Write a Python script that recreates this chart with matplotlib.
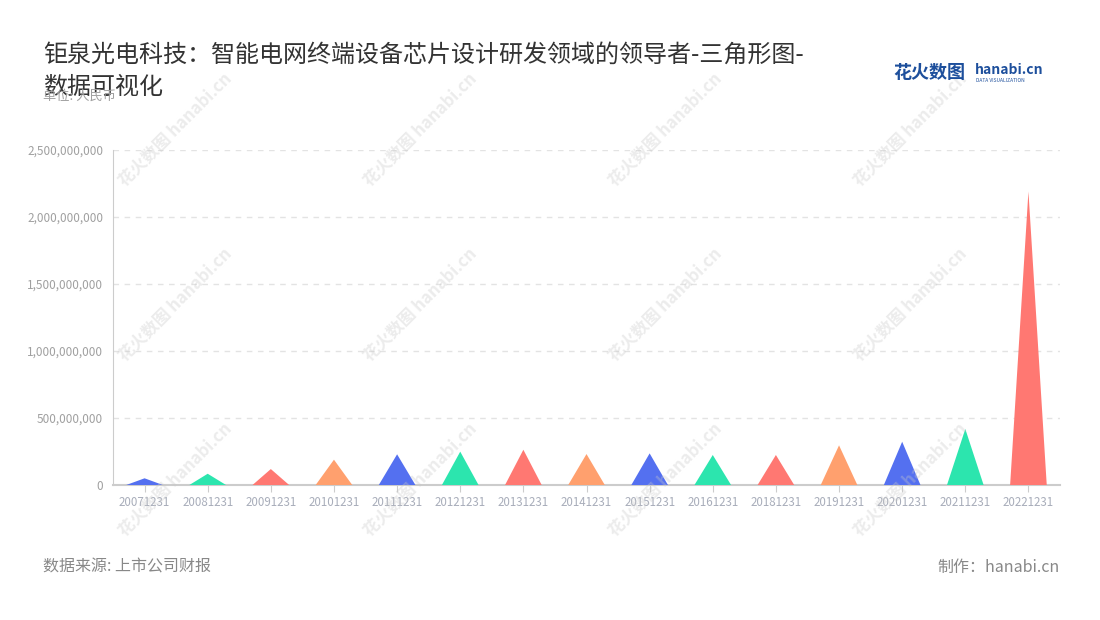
import matplotlib
matplotlib.use('Agg')
import matplotlib.pyplot as plt
from matplotlib.ticker import FuncFormatter

plt.rcParams['font.family'] = ['Noto Sans CJK SC', 'DejaVu Sans']

dates = ['20071231', '20081231', '20091231', '20101231', '20111231', '20121231',
         '20131231', '20141231', '20151231', '20161231', '20181231', '20191231',
         '20201231', '20211231', '20221231']
values = [50e6, 84e6, 119e6, 189e6, 229e6, 249e6, 263e6, 231e6, 236e6, 224e6,
          224e6, 296e6, 323e6, 418e6, 2190e6]
palette = ['#5470f0', '#2ce5ae', '#ff7872', '#ffa06e']

fig = plt.figure(figsize=(11, 6.2), dpi=100)
ax = fig.add_axes([113 / 1100, 1 - 485 / 620, 947 / 1100, 335 / 620])

# faint watermarks
for cx in [175, 420, 665, 910]:
    for cy in [130, 305, 480]:
        fig.text(cx / 1100, 1 - cy / 620, '花火数图 hanabi.cn', rotation=45,
                 ha='center', va='center', fontsize=12, color='#c8c8c8',
                 alpha=0.35, fontweight='bold')

w = 0.58
for i, v in enumerate(values):
    ax.fill([i - w / 2, i, i + w / 2], [0, v, 0], color=palette[i % 4],
            linewidth=0, zorder=3)

ax.set_xlim(-0.5, len(dates) - 0.5)
ax.set_ylim(0, 2.5e9)
ax.set_xticks(range(len(dates)))
ax.set_xticklabels(dates)
ax.set_yticks([0, 5e8, 1e9, 1.5e9, 2e9, 2.5e9])
ax.yaxis.set_major_formatter(FuncFormatter(lambda v, p: f'{int(v):,}'))
ax.grid(axis='y', linestyle=(0, (4, 4)), color='#e3e3e3', linewidth=1, zorder=0)
ax.set_axisbelow(True)
ax.patch.set_alpha(0)

for s in ['top', 'right']:
    ax.spines[s].set_visible(False)
ax.spines['left'].set_color('#cccccc')
ax.spines['bottom'].set_color('#cccccc')
ax.spines['bottom'].set_linewidth(1.5)
ax.tick_params(axis='x', colors='#cccccc', labelcolor='#a8adba', labelsize=8.3,
               length=5, pad=3)
ax.tick_params(axis='y', colors='#cccccc', labelcolor='#a0a0a0', labelsize=8.5,
               length=0, pad=7)

fig.text(43 / 1100, 1 - 55 / 620, '钜泉光电科技：智能电网终端设备芯片设计研发领域的领导者-三角形图-',
         fontsize=17.3, color='#333333', va='center')
fig.text(43 / 1100, 1 - 87 / 620, '数据可视化', fontsize=17.3, color='#333333', va='center')
fig.text(43 / 1100, 1 - 96 / 620, '单位: 人民币', fontsize=9.5, color='#a0a0a0', va='center')

fig.text(43 / 1100, 1 - 567 / 620, '数据来源: 上市公司财报', fontsize=11.5, color='#888888', va='center')
fig.text(1060 / 1100, 1 - 567 / 620, '制作：hanabi.cn', fontsize=11.5, color='#888888',
         va='center', ha='right')

# logo
fig.text(893 / 1100, 1 - 72 / 620, '花火数图', fontsize=13, color='#1d4f9c',
         fontweight='bold', va='center')
fig.text(975 / 1100, 1 - 70 / 620, 'hanabi.cn', fontsize=10, color='#1d4f9c',
         fontweight='bold', va='center')
fig.text(976 / 1100, 1 - 80 / 620, 'DATA VISUALIZATION', fontsize=3.5, color='#1d4f9c',
         va='center')

fig.savefig('out.png', dpi=100)
